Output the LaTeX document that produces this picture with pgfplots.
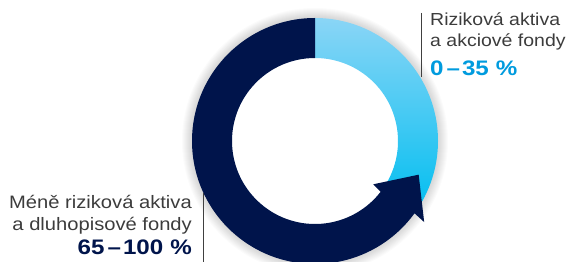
\documentclass[border=0pt]{standalone}
\usepackage{fontspec}
\setmainfont{Liberation Sans}
\newfontfamily\lab[FakeStretch=1.12]{Liberation Sans}
\newfontfamily\labb[FakeStretch=1.15]{Liberation Sans}
\usepackage{pgfplots}
\pgfplotsset{compat=1.18}
\usepackage{pgfplotstable}
\definecolor{navy}{RGB}{0,20,75}
\definecolor{lightA}{RGB}{138,213,246}
\definecolor{lightB}{RGB}{0,190,240}
\definecolor{txt}{RGB}{60,60,60}
\definecolor{numblue}{RGB}{0,155,222}
\pgfplotstableread{
group share
risky 35
safe 65
}\shares
\pgfplotstablegetelem{0}{share}\of\shares
\let\risk\pgfplotsretval
\begin{document}
\begin{tikzpicture}
\pgfmathsetmacro{\bnd}{90-3.6*\risk}
\pgfmathsetmacro{\bndw}{\bnd+360}
\begin{axis}[x=1pt,y=1pt,xmin=0,xmax=573,ymin=0,ymax=262,hide axis,scale only axis,clip=false]
\coordinate (LL) at (axis cs:0,0);
\coordinate (UR) at (axis cs:573,262);
\coordinate (C) at (axis cs:315,121);
% soft shadow
\pgfplotsinvokeforeach{1,...,10}{
  \fill[black,opacity=0.015,even odd rule] (C) circle[radius=123pt+#1pt] (C) circle[radius=118pt];
}
% risky segment
\shade[top color=lightA,bottom color=lightB]
  ([shift={(C)}]90:123pt) arc[start angle=90,end angle=\bnd,radius=123pt]
  -- ([shift={(C)}]\bnd:83pt) arc[start angle=\bnd,end angle=90,radius=83pt] -- cycle;
% safe segment with arrow head
\fill[navy]
  ([shift={(C)}]90:123pt) arc[start angle=90,end angle=\bndw,radius=123pt]
  -- ([shift={(C)}]\bnd-0.6:136pt)
  -- ([shift={(C)}]\bnd+18:109pt)
  -- ([shift={(C)}]\bnd-0.6:72.6pt)
  -- ([shift={(C)}]\bnd-1.7:83pt)
  arc[start angle=\bndw-1.7,end angle=90,radius=83pt] -- cycle;
% leader lines
\draw[black!75,line width=0.8pt] (axis cs:421,249) -- (axis cs:421,185);
\draw[black!75,line width=0.8pt] (axis cs:203,69) -- (axis cs:203,-2);
% labels
\node[anchor=base west,inner sep=0pt,text=txt,font=\lab\fontsize{17.4}{20}\selectfont] at (axis cs:430,236) {Riziková aktiva};
\node[anchor=base west,inner sep=0pt,text=txt,font=\lab\fontsize{17.4}{20}\selectfont] at (axis cs:430,215) {a akciové fondy};
\node[anchor=base west,inner sep=0pt,text=numblue,font=\labb\bfseries\fontsize{21}{24}\selectfont] at (axis cs:430,186) {0\kern3pt–\kern2pt35\kern7pt\%};
\node[anchor=base east,inner sep=0pt,text=txt,font=\lab\fontsize{18}{22}\selectfont] at (axis cs:192,53) {Méně riziková aktiva};
\node[anchor=base east,inner sep=0pt,text=txt,font=\lab\fontsize{18}{22}\selectfont] at (axis cs:192,31) {a dluhopisové fondy};
\node[anchor=base east,inner sep=0pt,text=navy,font=\labb\bfseries\fontsize{21}{24}\selectfont] at (axis cs:192,7) {65\kern3pt–\kern2pt100\kern7pt\%};
\end{axis}
\pgfresetboundingbox
\path (LL) rectangle (UR);
\end{tikzpicture}
\end{document}
